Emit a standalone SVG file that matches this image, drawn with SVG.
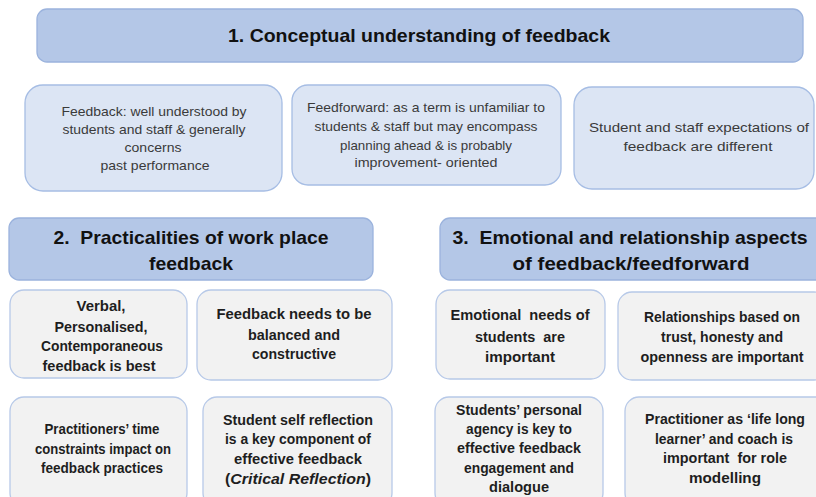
<svg xmlns="http://www.w3.org/2000/svg" width="816" height="497" viewBox="0 0 816 497">
  <style>
    .hdr { fill: #b4c7e7; stroke: #9bb3dd; stroke-width: 1.3; }
    .blue { fill: #dce5f4; stroke: #a6bde4; stroke-width: 1.3; }
    .grey { fill: #f2f2f2; stroke: #b7c9e8; stroke-width: 1.3; }
    text { font-family: "Liberation Sans", Arial, sans-serif; text-anchor: middle; white-space: pre; }
    .ht { font-size: 19px; font-weight: bold; fill: #111; }
    .rt { font-size: 13.5px; fill: #3a3a3a; }
    .bt { font-size: 15.5px; font-weight: bold; fill: #1e1e1e; }
  </style>
  <rect width="816" height="497" fill="#ffffff"/>

  <!-- Theme 1 -->
  <g id="theme1">
    <rect class="hdr" x="37" y="9" width="766" height="53" rx="10"/>
    <text class="ht" x="419" y="42" textLength="382" lengthAdjust="spacingAndGlyphs">1. Conceptual understanding of feedback</text>
  </g>
  <g id="t1-feedback">
    <rect class="blue" x="25" y="85" width="257" height="106" rx="18"/>
    <text class="rt" x="154" y="116" textLength="185" lengthAdjust="spacingAndGlyphs">Feedback: well understood by</text>
    <text class="rt" x="154" y="134" textLength="183" lengthAdjust="spacingAndGlyphs">students and staff &amp; generally</text>
    <text class="rt" x="153" y="152" textLength="57" lengthAdjust="spacingAndGlyphs">concerns</text>
    <text class="rt" x="155" y="170" textLength="109" lengthAdjust="spacingAndGlyphs">past performance</text>
  </g>
  <g id="t1-feedforward">
    <rect class="blue" x="292" y="85" width="269" height="100" rx="16"/>
    <text class="rt" x="426" y="112" textLength="238" lengthAdjust="spacingAndGlyphs">Feedforward: as a term is unfamiliar to</text>
    <text class="rt" x="426" y="131" textLength="223" lengthAdjust="spacingAndGlyphs">students &amp; staff but may encompass</text>
    <text class="rt" x="426" y="150" textLength="172" lengthAdjust="spacingAndGlyphs">planning ahead &amp; is probably</text>
    <text class="rt" x="426" y="167" textLength="143" lengthAdjust="spacingAndGlyphs">improvement- oriented</text>
  </g>
  <g id="t1-expectations">
    <rect class="blue" x="574" y="87" width="240" height="102" rx="18"/>
    <text class="rt" x="699" y="132" textLength="220" lengthAdjust="spacingAndGlyphs">Student and staff expectations of</text>
    <text class="rt" x="698" y="151" textLength="149" lengthAdjust="spacingAndGlyphs">feedback are different</text>
  </g>

  <!-- Theme 2 -->
  <g id="theme2">
    <rect class="hdr" x="9" y="218" width="364" height="62" rx="10"/>
    <text class="ht" x="191" y="244" textLength="275" lengthAdjust="spacingAndGlyphs">2.  Practicalities of work place</text>
    <text class="ht" x="191" y="270" textLength="84" lengthAdjust="spacingAndGlyphs">feedback</text>
  </g>
  <g id="t2-verbal">
    <rect class="grey" x="10" y="290" width="177" height="88" rx="14"/>
    <text class="bt" x="101" y="311" textLength="49" lengthAdjust="spacingAndGlyphs">Verbal,</text>
    <text class="bt" x="101" y="332" textLength="93" lengthAdjust="spacingAndGlyphs">Personalised,</text>
    <text class="bt" x="102" y="351" textLength="122" lengthAdjust="spacingAndGlyphs">Contemporaneous</text>
    <text class="bt" x="99" y="371" textLength="113" lengthAdjust="spacingAndGlyphs">feedback is best</text>
  </g>
  <g id="t2-balanced">
    <rect class="grey" x="197" y="290" width="195" height="90" rx="14"/>
    <text class="bt" x="294" y="319" textLength="155" lengthAdjust="spacingAndGlyphs">Feedback needs to be</text>
    <text class="bt" x="294" y="340" textLength="92" lengthAdjust="spacingAndGlyphs">balanced and</text>
    <text class="bt" x="294" y="359" textLength="84" lengthAdjust="spacingAndGlyphs">constructive</text>
  </g>
  <g id="t2-time">
    <rect class="grey" x="10" y="397" width="177" height="110" rx="14"/>
    <text class="bt" x="102" y="434" textLength="115" lengthAdjust="spacingAndGlyphs">Practitioners’ time</text>
    <text class="bt" x="103" y="454" textLength="136" lengthAdjust="spacingAndGlyphs">constraints impact on</text>
    <text class="bt" x="102" y="473" textLength="122" lengthAdjust="spacingAndGlyphs">feedback practices</text>
  </g>
  <g id="t2-reflection">
    <rect class="grey" x="203" y="397" width="189" height="110" rx="14"/>
    <text class="bt" x="298" y="425" textLength="150" lengthAdjust="spacingAndGlyphs">Student self reflection</text>
    <text class="bt" x="298" y="444" textLength="146" lengthAdjust="spacingAndGlyphs">is a key component of</text>
    <text class="bt" x="298" y="464" textLength="128" lengthAdjust="spacingAndGlyphs">effective feedback</text>
    <text class="bt" x="298" y="484" textLength="146" lengthAdjust="spacingAndGlyphs">(<tspan font-style="italic">Critical Reflection</tspan>)</text>
  </g>

  <!-- Theme 3 -->
  <g id="theme3">
    <rect class="hdr" x="440" y="218" width="390" height="62" rx="10"/>
    <text class="ht" x="630" y="244" textLength="355" lengthAdjust="spacingAndGlyphs">3.  Emotional and relationship aspects</text>
    <text class="ht" x="631" y="270" textLength="237" lengthAdjust="spacingAndGlyphs">of feedback/feedforward</text>
  </g>
  <g id="t3-emotional">
    <rect class="grey" x="436" y="290" width="169" height="89" rx="14"/>
    <text class="bt" x="520" y="320" textLength="139" lengthAdjust="spacingAndGlyphs">Emotional  needs of</text>
    <text class="bt" x="520" y="342" textLength="90" lengthAdjust="spacingAndGlyphs">students  are</text>
    <text class="bt" x="520" y="362" textLength="70" lengthAdjust="spacingAndGlyphs">important</text>
  </g>
  <g id="t3-relationships">
    <rect class="grey" x="618" y="292" width="210" height="88" rx="14"/>
    <text class="bt" x="722" y="322" textLength="156" lengthAdjust="spacingAndGlyphs">Relationships based on</text>
    <text class="bt" x="722" y="342" textLength="122" lengthAdjust="spacingAndGlyphs">trust, honesty and</text>
    <text class="bt" x="722" y="362" textLength="163" lengthAdjust="spacingAndGlyphs">openness are important</text>
  </g>
  <g id="t3-agency">
    <rect class="grey" x="435" y="397" width="168" height="110" rx="14"/>
    <text class="bt" x="519" y="415" textLength="126" lengthAdjust="spacingAndGlyphs">Students’ personal</text>
    <text class="bt" x="519" y="434" textLength="106" lengthAdjust="spacingAndGlyphs">agency is key to</text>
    <text class="bt" x="519" y="453" textLength="124" lengthAdjust="spacingAndGlyphs">effective feedback</text>
    <text class="bt" x="519" y="473" textLength="110" lengthAdjust="spacingAndGlyphs">engagement and</text>
    <text class="bt" x="519" y="492" textLength="60" lengthAdjust="spacingAndGlyphs">dialogue</text>
  </g>
  <g id="t3-lifelong">
    <rect class="grey" x="625" y="397" width="205" height="110" rx="14"/>
    <text class="bt" x="725" y="424" textLength="160" lengthAdjust="spacingAndGlyphs">Practitioner as ‘life long</text>
    <text class="bt" x="724" y="444" textLength="138" lengthAdjust="spacingAndGlyphs">learner’ and coach is</text>
    <text class="bt" x="725" y="463" textLength="124" lengthAdjust="spacingAndGlyphs">important  for role</text>
    <text class="bt" x="725" y="483" textLength="72" lengthAdjust="spacingAndGlyphs">modelling</text>
  </g>

  <!-- no connectors in this figure -->
  <g id="connectors"/>
</svg>
